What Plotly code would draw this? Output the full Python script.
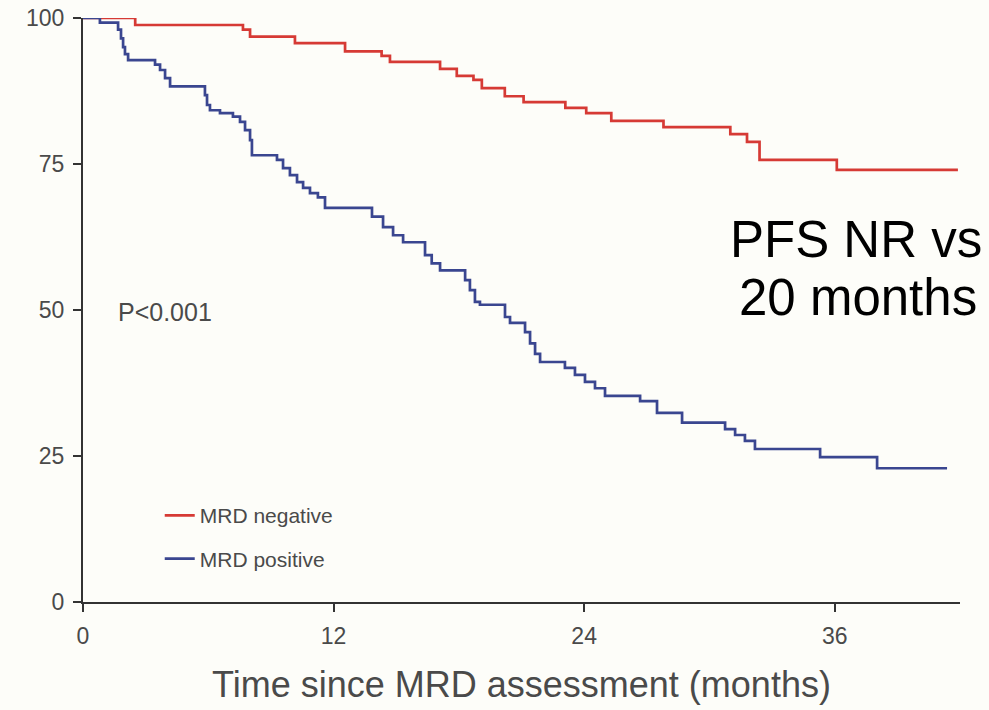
import plotly.graph_objects as go

# MRD negative (red) Kaplan-Meier steps: time (months), survival (%)
neg_time = [0, 2.5, 7.66, 8.0, 10.15, 12.55, 14.3, 14.7, 17.1, 17.9, 18.7, 19.1,
            20.2, 21.1, 23.1, 24.1, 25.3, 27.8, 31.0, 31.8, 32.4, 36.1, 41.9]
neg_surv = [100, 98.8, 98.0, 96.8, 95.7, 94.3, 93.5, 92.5, 91.3, 90.1, 89.4, 88.0,
            86.6, 85.6, 84.6, 83.7, 82.4, 81.3, 80.1, 78.8, 75.7, 74.0, 74.0]

# MRD positive (blue)
pos_time = [0, 0.81, 1.68, 1.82, 1.92, 2.01, 2.16, 3.45, 3.69, 3.93, 4.17, 5.84,
            5.94, 6.08, 6.56, 7.18, 7.52, 7.76, 8.0, 8.09, 9.29, 9.58, 9.91, 10.25,
            10.54, 10.87, 11.25, 11.59, 13.84, 14.37, 14.85, 15.33, 16.38, 16.7,
            17.1, 18.3, 18.53, 18.77, 19.01, 20.21, 20.45, 21.17, 21.41, 21.65,
            21.89, 23.08, 23.56, 24.04, 24.52, 25.0, 26.68, 27.49, 28.69, 30.75,
            31.23, 31.7, 32.18, 35.3, 38.03, 41.38]
pos_surv = [100, 99.2, 98.0, 96.5, 95.0, 93.8, 92.8, 92.0, 91.1, 89.7, 88.3, 86.8,
            85.1, 84.2, 83.7, 83.1, 82.2, 80.8, 79.1, 76.5, 75.7, 74.3, 73.1, 71.9,
            70.9, 70.0, 69.3, 67.5, 66.0, 64.2, 62.8, 61.6, 59.4, 58.0,
            56.8, 55.1, 53.4, 51.4, 50.9, 48.8, 47.8, 46.2, 44.3, 42.5,
            41.1, 40.1, 38.9, 37.7, 36.6, 35.3, 34.4, 32.4, 30.7, 29.6,
            28.6, 27.6, 26.2, 24.8, 22.9, 22.9]

x_ticks = [0, 12, 24, 36]
y_ticks = [0, 25, 50, 75, 100]
series_names = ["MRD negative", "MRD positive"]
x_title = "Time since MRD assessment (months)"
p_text = "P<0.001"
pfs_lines = ["PFS NR vs", "20 months"]

RED = "#d63a35"
BLUE = "#3a4690"
FONT = "Liberation Sans, Arial, sans-serif"
TXT = "#4a4a4a"

fig = go.Figure()
fig.add_trace(go.Scatter(x=neg_time, y=neg_surv, mode="lines", line_shape="hv",
                         name=series_names[0], legendgroup="a",
                         line=dict(color=RED, width=2.7)))
fig.add_trace(go.Scatter(x=pos_time, y=pos_surv, mode="lines", line_shape="hv",
                         name=series_names[1], legendgroup="b",
                         line=dict(color=BLUE, width=2.7)))

fig.add_annotation(x=1.6, y=49.7, xref="x", yref="y", text=p_text, showarrow=False,
                   xanchor="left", yanchor="middle",
                   font=dict(family=FONT, size=25, color=TXT))
fig.add_annotation(x=0.881, y=0.62, xref="paper", yref="paper", text=pfs_lines[0],
                   showarrow=False, xanchor="center", yanchor="middle",
                   font=dict(family=FONT, size=51, color="#000000"))
fig.add_annotation(x=0.884, y=0.522, xref="paper", yref="paper", text=pfs_lines[1],
                   showarrow=False, xanchor="center", yanchor="middle",
                   font=dict(family=FONT, size=51, color="#000000"))

axis_common = dict(showgrid=False, zeroline=False, showline=True, linecolor="#333333",
                   linewidth=2, ticks="outside", ticklen=8, tickwidth=1.5,
                   tickcolor="#333333", ticklabeloverflow="allow",
                   tickfont=dict(family=FONT, size=23, color=TXT))

fig.update_xaxes(range=[0, 42], tickvals=x_ticks, ticktext=[str(v) for v in x_ticks],
                 title=dict(text=x_title, font=dict(family=FONT, size=36, color=TXT),
                            standoff=24),
                 ticklabelstandoff=4, **axis_common)
fig.update_yaxes(range=[0, 100], tickvals=y_ticks, ticktext=[str(v) for v in y_ticks],
                 ticklabelstandoff=4, **axis_common)

fig.update_layout(
    width=989, height=710,
    margin=dict(l=83, r=29, t=18, b=108, autoexpand=False),
    paper_bgcolor="#fdfdf9", plot_bgcolor="#fdfdf9",
    showlegend=True,
    legend=dict(x=0.0875, y=0.183, xanchor="left", yanchor="top",
                bgcolor="rgba(0,0,0,0)", tracegroupgap=13, traceorder="grouped",
                font=dict(family=FONT, size=21, color=TXT)),
)

fig.write_html("out.html",
               config={"displayModeBar": False},
               post_script="document.body.style.margin='0';"
                           "document.body.style.overflow='hidden';")
